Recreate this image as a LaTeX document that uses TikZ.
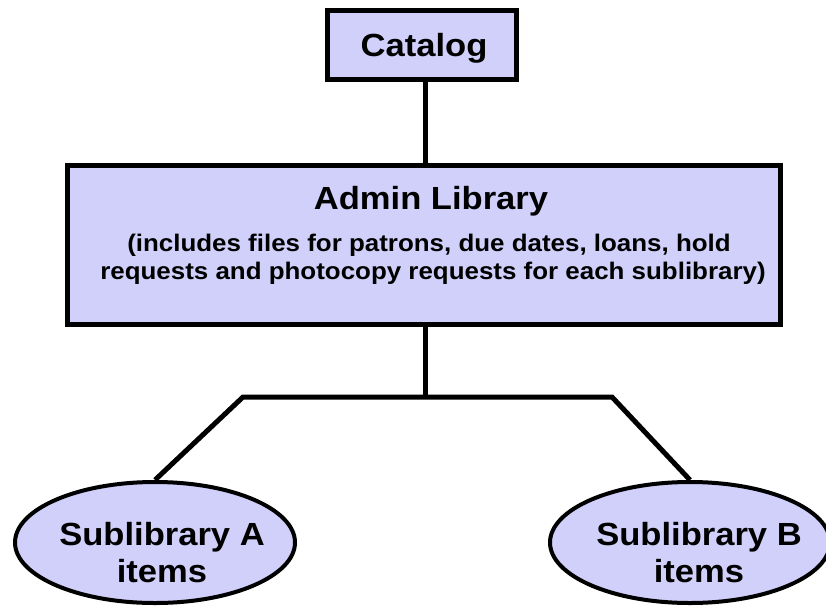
\documentclass[tikz,border=0pt]{standalone}
\usepackage{fontspec}
\setmainfont{Liberation Sans}[FakeStretch=1.08]
\usetikzlibrary{shapes.geometric}
\definecolor{boxfill}{RGB}{208,208,250}
\tikzset{
  conn/.style={line width=5pt, line join=miter},
  boxshape/.style={draw, line width=5pt, fill=boxfill, rectangle, inner sep=0pt},
  ellshape/.style={draw, line width=4pt, fill=boxfill, ellipse, inner sep=0pt},
  titletext/.style={font=\fontsize{32}{38}\selectfont\bfseries, inner sep=0pt, anchor=base},
  elltext/.style={font=\fontsize{32}{37}\selectfont\bfseries, inner sep=0pt, align=center, anchor=base},
  subtext/.style={font=\fontsize{24}{28}\selectfont\bfseries, inner sep=0pt, align=center, anchor=base}
}
\begin{document}
\begin{tikzpicture}[x=1pt,y=-1pt]
\useasboundingbox (0,0) rectangle (826,607);
% boxes
\node[boxshape, minimum width=189pt, minimum height=69pt] (catalog) at (422,45) {};
\node[titletext] (catalogtext) at (424,57) {Catalog};
\node[boxshape, minimum width=713pt, minimum height=159pt] (admin) at (424,245) {};
\node[titletext] (admintitle) at (431,209) {Admin Library};
\node[subtext] (adminsub1) at (429,251) {(includes files for patrons, due dates, loans, hold};
\node[subtext] (adminsub2) at (433,279) {requests and photocopy requests for each sublibrary)};
% ellipses
\node[ellshape, minimum width=280pt, minimum height=121pt] (ela) at (155,542.5) {};
\node[ellshape, minimum width=280pt, minimum height=121pt] (elb) at (690,542.5) {};
\node[elltext] (elatext) at (162,582) {Sublibrary A\\items};
\node[elltext] (elbtext) at (699,582) {Sublibrary B\\items};
% connectors
\coordinate (j) at (425,397);
\coordinate (jl) at (243,397);
\coordinate (jr) at (612,397);
\draw[conn] (catalog.south -| j) -- (admin.north -| j);
\draw[conn] (admin.south -| j) -- (j);
\draw[conn] (ela.north) -- (jl) -- (jr) -- (elb.north);
\end{tikzpicture}
\end{document}
